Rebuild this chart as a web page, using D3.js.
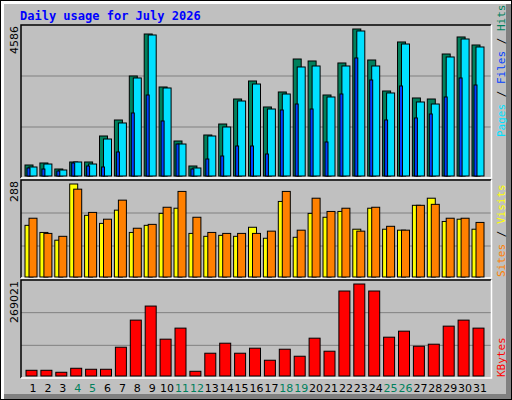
<!DOCTYPE html>
<html><head><meta charset="utf-8">
<script src="https://cdn.jsdelivr.net/npm/d3@7"></script>
<style>body{margin:0;background:#fff}</style></head>
<body><script>
const days = d3.range(1,32);
const weekend = [4,5,11,12,18,19,25,26];
const hits  = [343,406,218,437,437,1248,1747,3120,4430,2777,1092,312,1279,1622,2402,2964,2153,2621,3650,3588,2527,3526,4586,3619,2652,4181,2434,2402,3806,4337,4087];
const files = [281,374,187,437,374,1154,1654,3058,4399,2746,998,250,1248,1529,2340,2870,2090,2558,3401,3432,2465,3432,4524,3432,2590,4118,2309,2246,3713,4274,4025];
const pages = [250,218,156,406,312,281,749,1966,2527,1716,998,218,530,624,936,936,686,2059,2246,2090,1061,2558,3682,2995,1747,2808,1810,1934,2465,3058,2839];
const visits= [160,138,114,288,191,166,207,138,160,197,213,135,126,129,126,154,120,234,123,197,185,203,148,213,148,145,222,244,172,179,148];
const sites = [182,135,126,272,200,179,238,151,163,216,265,185,138,135,135,135,142,265,145,244,203,213,142,216,157,145,222,225,182,182,169];
const kbytes= [16700,16700,10900,22600,19700,19700,84200,163400,204500,107700,140000,13800,66600,95900,66600,81300,46100,78300,57800,110600,72500,248500,269021,248500,113500,131100,87100,93000,145800,163400,140000];
const maxHits=4586, maxVisits=288, maxK=269021;

const W=512,H=400;
const svg=d3.select("body").append("svg").attr("width",W).attr("height",H);
svg.append("rect").attr("x",0).attr("y",0).attr("width",W).attr("height",H).attr("fill","#000");
svg.append("rect").attr("x",1).attr("y",1).attr("width",W-2).attr("height",H-2).attr("fill","#fff");
svg.append("rect").attr("x",4).attr("y",4).attr("width",W-5).attr("height",H-5).attr("fill","#808080");
svg.append("rect").attr("x",4).attr("y",4).attr("width",W-10).attr("height",H-10).attr("fill","#c0c0c0");

svg.append("text").attr("x",20).attr("y",20).text("Daily usage for July 2026")
 .attr("font-family","DejaVu Sans Mono").attr("font-weight","bold").attr("font-size",12).attr("fill","#0000ff");

const x=d3.scaleLinear().domain([1,31]).range([33,480]);
const L=21,R=491;
const panels=[{t:25,b:176,top:29,max:maxHits,label:"4586"},{t:180,b:277,top:184,max:maxVisits,label:"288"},{t:280,b:376,top:284,max:maxK,label:"269021"}];
panels.forEach(p=>{
  p.y=d3.scaleLinear().domain([0,p.max]).range([p.b,p.top]);
  const bot = p===panels[2]?378:p.b+2;
  p.bot=bot;
  const h=bot-p.t;
  [1,2].forEach(k=>svg.append("line").attr("x1",L).attr("x2",R).attr("y1",p.t+h*k/3).attr("y2",p.t+h*k/3).attr("stroke","#808080").attr("stroke-width",1));
  svg.append("text").attr("transform",`translate(18,${p.t+1}) rotate(-90)`).attr("text-anchor","end")
   .attr("font-family","DejaVu Sans").attr("font-size",11).attr("fill","#000").text(p.label);
});
// frames
[[25,178],[180,278],[280,378]].forEach(([t,b])=>{
  svg.append("path").attr("d",`M${L},${b}V${t}H${R}`).attr("fill","none").attr("stroke","#000").attr("stroke-width",1.5);
  svg.append("path").attr("d",`M${R+0.5},${t}V${b}H${L}`).attr("fill","none").attr("stroke","#fff").attr("stroke-width",1.5);
});

function bar(x0,w,y0,y1,fill){svg.append("rect").attr("x",x0).attr("y",y1).attr("width",w).attr("height",Math.max(0,y0-y1)).attr("fill",fill).attr("stroke","#000").attr("stroke-width",1);}
const p1=panels[0],p2=panels[1],p3=panels[2];
days.forEach((d,i)=>{
  const c=x(d);
  bar(c-8,8,p1.b,p1.y(hits[i]),"#00805c");
  bar(c-4,8,p1.b,p1.y(files[i]),"#00e0ff");
  bar(c-6,3,p1.b,p1.y(pages[i]),"#0040ff");
  bar(c-8,8,p2.b,p2.y(visits[i]),"#ffff00");
  bar(c-4,8,p2.b,p2.y(sites[i]),"#ff8000");
  bar(c-7,11,p3.b,p3.y(kbytes[i]),"#ff0000");
  svg.append("text").attr("x",c).attr("y",392).attr("text-anchor","middle")
   .attr("font-family","DejaVu Sans").attr("font-size",11)
   .attr("fill",weekend.includes(d)?"#00805c":"#000").text(d);
});
function vlabel(yb,parts){
  const t=svg.append("text").attr("transform",`translate(505,${yb}) rotate(-90)`)
   .attr("font-family","DejaVu Sans Mono").attr("font-size",11);
  parts.forEach(([s,c])=>t.append("tspan").attr("fill",c).text(s));
}
vlabel(137,[["Pages","#00e0ff"],[" / ","#000"],["Files","#0040ff"],[" / ","#000"],["Hits","#00805c"]]);
vlabel(277,[["Sites","#ff8000"],[" / ","#000"],["Visits","#ffff00"]]);
vlabel(377,[["KBytes","#ff0000"]]);
</script></body></html>
